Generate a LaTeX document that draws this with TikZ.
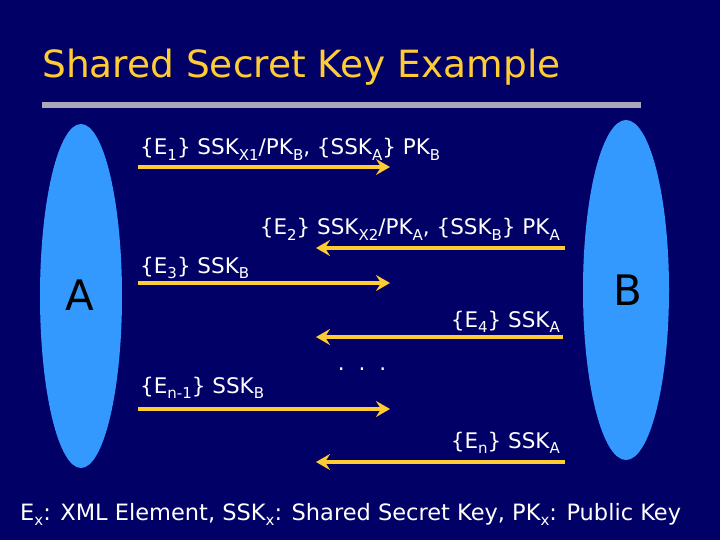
\documentclass[tikz,border=0pt]{standalone}
\usepackage{fontspec}
\setmainfont{DejaVu Sans}
\usetikzlibrary{arrows.meta}
\definecolor{bg}{HTML}{000066}
\definecolor{ell}{HTML}{3399FF}
\definecolor{gold}{HTML}{FFCC33}
\definecolor{barg}{HTML}{A8A8B8}
\newcommand\lsub[1]{\raisebox{-0.45ex}{\fontsize{15}{15}\selectfont #1}}
\tikzset{
  msg/.style={draw=gold, line width=4.5pt, -{Stealth[length=14pt,width=16pt,inset=5pt]}},
  lbl/.style={text=white, font=\fontsize{21.5}{21.5}\selectfont, inner sep=0pt},
  party/.style={fill=ell, draw=none},
  who/.style={text=black, font=\fontsize{42}{42}\selectfont, inner sep=0pt}
}
\begin{document}
\begin{tikzpicture}[x=1pt,y=-1pt]
\fill[bg] (0,0) rectangle (720,540);
\useasboundingbox (0,0) rectangle (720,540);
% title
\node[anchor=base west, inner sep=0pt, text=gold, font=\fontsize{37.5}{37.5}\selectfont] (title) at (42,78) {Shared Secret Key Example};
\fill[barg] (42,102) rectangle (641,108);
% parties
\fill[party] (81,296) ellipse [x radius=41, y radius=172];
\fill[party] (626,290) ellipse [x radius=43, y radius=170];
\node[who] (A) at (80,295) {A};
\node[who] (B) at (628,290) {B};
% coordinates
\coordinate (r1s) at (138,167); \coordinate (r1e) at (390,167);
\coordinate (l2s) at (565,248); \coordinate (l2e) at (316,248);
\coordinate (r3s) at (138,283); \coordinate (r3e) at (390,283);
\coordinate (l4s) at (563,337); \coordinate (l4e) at (316,337);
\coordinate (r6s) at (138,409); \coordinate (r6e) at (390,409);
\coordinate (l7s) at (565,462); \coordinate (l7e) at (316,462);
\draw[msg] (r1s) -- (r1e);
\draw[msg] (l2s) -- (l2e);
\draw[msg] (r3s) -- (r3e);
\draw[msg] (l4s) -- (l4e);
\draw[msg] (r6s) -- (r6e);
\draw[msg] (l7s) -- (l7e);
% labels
\node[lbl, anchor=base west] (t1) at (140,155) {\{E\lsub{1}\} SSK\lsub{X1}/PK\lsub{B}, \{SSK\lsub{A}\} PK\lsub{B}};
\node[lbl, anchor=base east] (t2) at (560,235) {\{E\lsub{2}\} SSK\lsub{X2}/PK\lsub{A}, \{SSK\lsub{B}\} PK\lsub{A}};
\node[lbl, anchor=base west] (t3) at (140,273) {\{E\lsub{3}\} SSK\lsub{B}};
\node[lbl, anchor=base east] (t4) at (560,327) {\{E\lsub{4}\} SSK\lsub{A}};
\node[lbl] (dots) at (362,369) {.\hspace{14pt}.\hspace{14pt}.};
\node[lbl, anchor=base west] (t6) at (140,393) {\{E\lsub{n-1}\} SSK\lsub{B}};
\node[lbl, anchor=base east] (t7) at (560,448) {\{E\lsub{n}\} SSK\lsub{A}};
% legend
\node[lbl, anchor=base west, font=\fontsize{22.5}{22.5}\selectfont] (legend) at (20,520) {E\lsub{x}: XML Element, SSK\lsub{x}: Shared Secret Key, PK\lsub{x}: Public Key};
\end{tikzpicture}
\end{document}
